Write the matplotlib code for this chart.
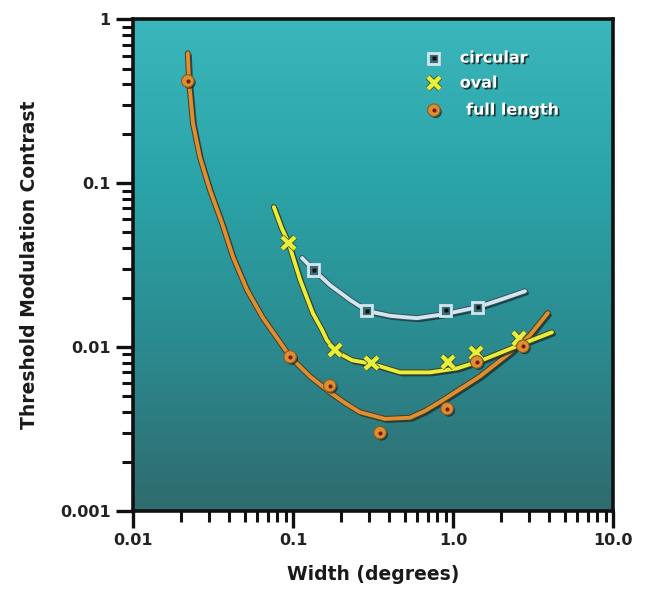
import numpy as np
import matplotlib
matplotlib.use("Agg")
import matplotlib.pyplot as plt
import matplotlib.patheffects as pe
from matplotlib.colors import LinearSegmentedColormap
from matplotlib.ticker import FixedLocator, FixedFormatter, LogLocator, NullFormatter

# ── measured points ─────────────────────────────────────────────────────────
circ_x = [0.135, 0.29, 0.90, 1.43]
circ_y = [0.0295, 0.0166, 0.0167, 0.0175]

oval_x = [0.094, 0.183, 0.31, 0.93, 1.39, 2.59]
oval_y = [0.043, 0.0096, 0.0080, 0.0081, 0.0092, 0.0113]

full_x = [0.022, 0.096, 0.17, 0.35, 0.92, 1.41, 2.74]
full_y = [0.42, 0.0087, 0.0058, 0.0030, 0.0042, 0.0081, 0.0101]

# ── fitted curves ───────────────────────────────────────────────────────────
circ_fit_x = [0.114, 0.135, 0.170, 0.227, 0.29, 0.404, 0.50, 0.596, 0.90, 1.43, 1.97, 2.82]
circ_fit_y = [0.0349, 0.0295, 0.0239, 0.0194, 0.0166, 0.0155, 0.0152, 0.0150, 0.0159,
              0.0175, 0.0194, 0.0219]

oval_fit_x = [0.076, 0.085, 0.094, 0.111, 0.133, 0.152, 0.163, 0.183, 0.205, 0.234, 0.31,
              0.466, 0.718, 1.06, 1.47, 1.97, 2.82, 4.16]
oval_fit_y = [0.0714, 0.0532, 0.043, 0.0256, 0.0161, 0.0127, 0.0110, 0.0096, 0.0089, 0.0083,
              0.0079, 0.0070, 0.0070, 0.0074, 0.0082, 0.0092, 0.0106, 0.0123]

full_fit_x = [0.022, 0.0224, 0.0237, 0.0262, 0.0303, 0.036, 0.0422, 0.0516, 0.065, 0.083,
              0.096, 0.128, 0.170, 0.211, 0.262, 0.376, 0.539, 0.668, 0.83, 1.19, 1.47,
              2.27, 3.03, 3.92]
full_fit_y = [0.62, 0.42, 0.232, 0.144, 0.0906, 0.057, 0.0354, 0.0223, 0.0150, 0.0107,
              0.0087, 0.0066, 0.0053, 0.00456, 0.0040, 0.00364, 0.00370, 0.00407, 0.00462,
              0.00578, 0.0066, 0.0092, 0.0118, 0.0161]

x_ticks = [0.01, 0.1, 1.0, 10.0]
x_tick_labels = ["0.01", "0.1", "1.0", "10.0"]
y_ticks = [0.001, 0.01, 0.1, 1.0]
y_tick_labels = ["0.001", "0.01", "0.1", "1"]

legend_labels = ["circular", "oval", "full length"]

C_CIRC = "#d3e6ef"
C_OVAL = "#e6ef3c"
C_FULL = "#dd8f34"

fig = plt.figure(figsize=(6.52, 6.01), dpi=100)
ax = fig.add_axes([0.204, 0.150, 0.736, 0.818])

# teal gradient background
cmap = LinearSegmentedColormap.from_list(
    "teal", ["#2f6b6e", "#2b8a8f", "#2aa4a8", "#3bb6ba"])
grad = np.linspace(0, 1, 256).reshape(-1, 1)
ax.imshow(grad, extent=[0, 1, 0, 1], transform=ax.transAxes, aspect="auto",
          cmap=cmap, origin="lower", zorder=0)

line_fx = [pe.SimpleLineShadow(offset=(1.5, -1.5), shadow_color="#10252a", alpha=0.7),
           pe.Stroke(linewidth=4.2, foreground="#4a3a1c"), pe.Normal()]
line_fx_c = [pe.SimpleLineShadow(offset=(1.5, -1.5), shadow_color="#10252a", alpha=0.7),
             pe.Stroke(linewidth=4.2, foreground="#35505a"), pe.Normal()]
mark_fx = [pe.SimplePatchShadow(offset=(1.2, -1.2), shadow_rgbFace="#102020", alpha=0.7),
           pe.Normal()]

line_kw = dict(lw=2.8, zorder=3, solid_capstyle="round", solid_joinstyle="round")
ax.plot(full_fit_x, full_fit_y, color=C_FULL, path_effects=line_fx, **line_kw)
ax.plot(oval_fit_x, oval_fit_y, color=C_OVAL, path_effects=line_fx, **line_kw)
ax.plot(circ_fit_x, circ_fit_y, color=C_CIRC, path_effects=line_fx_c, **line_kw)

# markers
ax.plot(circ_x, circ_y, ls="none", marker="s", ms=8, mfc="#3a6f7a", mec=C_CIRC,
        mew=2, zorder=5, path_effects=mark_fx)
ax.plot(circ_x, circ_y, ls="none", marker="s", ms=2.5, mfc="#111", mec="none", zorder=6)
ax.plot(oval_x, oval_y, ls="none", marker="x", ms=9, mec=C_OVAL, mew=3.2,
        zorder=5, path_effects=[pe.Stroke(linewidth=4.2, foreground="#3a4010"), pe.Normal()])
ax.plot(full_x, full_y, ls="none", marker="o", ms=9, mfc=C_FULL, mec="#8a5a1e",
        mew=0.8, zorder=5, path_effects=mark_fx)
ax.plot(full_x, full_y, ls="none", marker="o", ms=3, mfc="#7a1a10", mec="none", zorder=6)

# legend drawn by hand
txt_fx = [pe.withSimplePatchShadow(offset=(1.2, -1.2), shadow_rgbFace="#1a2a2a", alpha=0.9)]
lx, ly = 0.627, [0.921, 0.870, 0.815]
ax.plot([lx], [ly[0]], transform=ax.transAxes, marker="s", ms=8, mfc="#3a6f7a",
        mec=C_CIRC, mew=2, ls="none", zorder=7, path_effects=mark_fx)
ax.plot([lx], [ly[0]], transform=ax.transAxes, marker="s", ms=2.5, mfc="#111",
        mec="none", ls="none", zorder=8)
ax.plot([lx], [ly[1]], transform=ax.transAxes, marker="x", ms=9, mec=C_OVAL, mew=3.2,
        ls="none", zorder=7,
        path_effects=[pe.Stroke(linewidth=4.2, foreground="#3a4010"), pe.Normal()])
ax.plot([lx], [ly[2]], transform=ax.transAxes, marker="o", ms=9, mfc=C_FULL,
        mec="#8a5a1e", mew=0.8, ls="none", zorder=7, path_effects=mark_fx)
ax.plot([lx], [ly[2]], transform=ax.transAxes, marker="o", ms=3, mfc="#7a1a10",
        mec="none", ls="none", zorder=8)
for lab, yy, xo in zip(legend_labels, ly, [0.681, 0.681, 0.694]):
    ax.text(xo, yy, lab, transform=ax.transAxes, color="white", fontsize=11.5,
            fontweight="bold", va="center", ha="left", zorder=8, path_effects=txt_fx)

# axes
ax.set_xscale("log")
ax.set_yscale("log")
ax.set_xlim(0.01, 10.0)
ax.set_ylim(0.001, 1.0)

ax.xaxis.set_major_locator(FixedLocator(x_ticks))
ax.xaxis.set_major_formatter(FixedFormatter(x_tick_labels))
ax.yaxis.set_major_locator(FixedLocator(y_ticks))
ax.yaxis.set_major_formatter(FixedFormatter(y_tick_labels))
ax.xaxis.set_minor_locator(LogLocator(base=10, subs=np.arange(2, 10)))
ax.yaxis.set_minor_locator(LogLocator(base=10, subs=np.arange(2, 10)))
ax.xaxis.set_minor_formatter(NullFormatter())
ax.yaxis.set_minor_formatter(NullFormatter())

ax.tick_params(which="major", direction="out", length=12, width=2.4, color="#111",
               labelsize=11.5, labelcolor="#222", pad=4)
ax.tick_params(which="minor", direction="out", length=8, width=2.2, color="#111")
for lab in ax.get_xticklabels() + ax.get_yticklabels():
    lab.set_fontweight("bold")

for sp in ax.spines.values():
    sp.set_linewidth(2.6)
    sp.set_color("#111")

ax.set_xlabel("Width (degrees)", fontsize=13.5, fontweight="bold", color="#1a1a1a",
              labelpad=12)
ax.set_ylabel("Threshold Modulation Contrast", fontsize=13.5, fontweight="bold",
              color="#1a1a1a", labelpad=15)

fig.savefig("out.png", dpi=100)
